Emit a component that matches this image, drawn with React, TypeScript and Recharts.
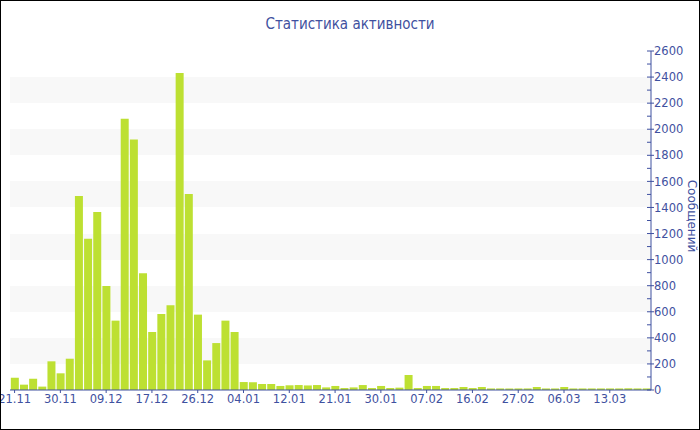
import React from "react";
import { BarChart, Bar, XAxis, YAxis, CartesianGrid } from "recharts";

// one bar per day with activity (days without messages are skipped)
const dates = [
  "21.11", "23.11", "24.11", "26.11", "28.11",
  "30.11", "02.12", "04.12", "05.12", "07.12",
  "09.12", "11.12", "12.12", "14.12", "15.12",
  "17.12", "19.12", "21.12", "22.12", "24.12",
  "26.12", "28.12", "30.12", "31.12", "02.01",
  "04.01", "06.01", "07.01", "09.01", "10.01",
  "12.01", "14.01", "16.01", "17.01", "19.01",
  "21.01", "23.01", "25.01", "26.01", "28.01",
  "30.01", "01.02", "02.02", "04.02", "05.02",
  "07.02", "09.02", "11.02", "12.02", "14.02",
  "16.02", "18.02", "20.02", "23.02", "25.02",
  "27.02", "01.03", "02.03", "03.03", "05.03",
  "06.03", "08.03", "09.03", "10.03", "11.03",
  "13.03", "14.03", "15.03", "16.03", "17.03",
];

const messages = [
  94, 41, 87, 26, 220,
  128, 240, 1488, 1160, 1365,
  797, 532, 2081, 1922, 895,
  445, 583, 650, 2431, 1503,
  578, 227, 360, 532, 445,
  61, 59, 46, 46, 31,
  36, 38, 35, 38, 20,
  31, 15, 20, 38, 15,
  31, 15, 18, 115, 15,
  31, 31, 15, 15, 23,
  15, 23, 12, 12, 12,
  12, 12, 23, 12, 12,
  23, 12, 12, 12, 12,
  12, 12, 13, 12, 12,
];

const yTicks = [
  0, 100, 200, 300, 400, 500, 600, 700, 800, 900, 1000, 1100, 1200, 1300,
  1400, 1500, 1600, 1700, 1800, 1900, 2000, 2100, 2200, 2300, 2400, 2500, 2600,
];

const data = dates.map((date, i) => ({ date, count: messages[i] }));

const BLUE = "#3f51a0";
const FONT = "'DejaVu Sans', Verdana, sans-serif";

// major ticks (every 200) cross the axis and carry a label, minor ones only stick out left
const YTick = (props: any) => {
  const { x, y, payload } = props;
  const major = payload.value % 200 === 0;
  return (
    <g>
      <line x1={x - 4} x2={major ? x + 3 : x} y1={y} y2={y} stroke={BLUE} />
      {major && (
        <text x={x + 3} y={y} dy="0.36em" fill={BLUE} fontSize={11.5} fontFamily={FONT}>
          {payload.value}
        </text>
      )}
    </g>
  );
};

export default function App() {
  return (
    <div style={{ position: "absolute", left: 0, top: 0, width: 700, height: 430, background: "#fff" }}>
      <BarChart
        width={700}
        height={430}
        data={data}
        margin={{ top: 51, right: 0, bottom: 10, left: 10 }}
        barCategoryGap="9%"
      >
        <CartesianGrid
          vertical={false}
          stroke="transparent"
          horizontalFill={["#ffffff", "#f8f8f8"]}
          horizontalValues={[0, 200, 400, 600, 800, 1000, 1200, 1400, 1600, 1800, 2000, 2200, 2400, 2600]}
        />
        <XAxis
          dataKey="date"
          interval={4}
          height={30}
          tickSize={3}
          axisLine={{ stroke: BLUE }}
          tickLine={{ stroke: BLUE }}
          tick={{ fill: BLUE, fontSize: 11.5, fontFamily: FONT }}
        />
        <YAxis
          orientation="right"
          width={49}
          domain={[0, 2600]}
          ticks={yTicks}
          interval={0}
          tickSize={0}
          tickMargin={0}
          tickLine={false}
          axisLine={{ stroke: BLUE }}
          tick={<YTick />}
        />
        <Bar dataKey="count" fill="#bde032" isAnimationActive={false} />
      </BarChart>
      <div
        style={{
          position: "absolute",
          left: 0,
          top: 17,
          width: 700,
          textAlign: "center",
          fontFamily: "'Liberation Sans Narrow', 'DejaVu Sans Condensed', sans-serif",
          fontSize: 15,
          lineHeight: "15px",
          color: BLUE,
        }}
      >
        Статистика активности
      </div>
      <div
        style={{
          position: "absolute",
          left: 642,
          top: 209,
          width: 100,
          height: 14,
          lineHeight: "14px",
          textAlign: "center",
          fontFamily: FONT,
          fontSize: 12,
          color: BLUE,
          transform: "rotate(90deg)",
        }}
      >
        Сообщений
      </div>
      <div
        style={{
          position: "absolute",
          left: 0,
          top: 0,
          width: 700,
          height: 430,
          boxSizing: "border-box",
          border: "1px solid #000",
          pointerEvents: "none",
        }}
      />
    </div>
  );
}
